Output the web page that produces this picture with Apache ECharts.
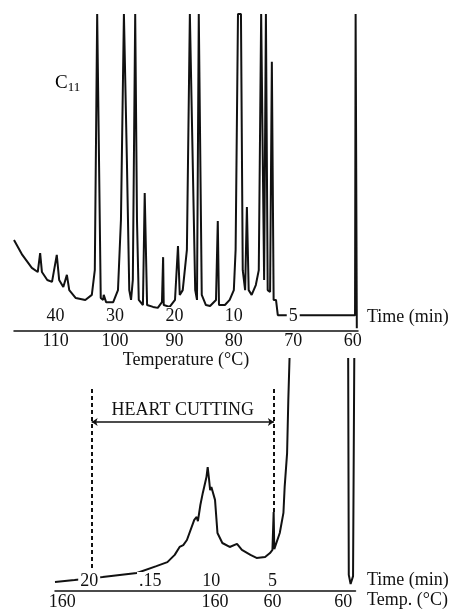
<!DOCTYPE html>
<html>
<head>
<meta charset="utf-8">
<script src="https://cdn.jsdelivr.net/npm/echarts@6/dist/echarts.min.js"></script>
<style>html,body{margin:0;background:#fff}#chart{width:459px;height:611px}</style>
</head>
<body>
<div id="chart"></div>
<script>
// upper run: x = column temperature (°C), y = detector signal (% of full scale)
const topTempC = [117.0, 115.6, 114.0, 113.0, 112.6, 112.3, 111.4, 110.6, 109.8, 109.4, 108.7, 108.1, 107.7, 106.6, 105.0,
  103.9, 103.4, 103.0, 102.7, 102.4, 102.0, 101.9, 101.5, 100.3, 99.5, 99.0, 98.5, 98.2, 98.0, 97.6, 97.3, 97.0, 96.6, 96.5,
  96.3, 96.0, 95.3, 95.0, 94.6, 93.6, 92.8, 92.1, 91.9, 91.8, 90.8, 89.9, 89.4, 89.1, 88.6, 87.9, 87.4, 87.1, 86.5, 86.2,
  85.9, 85.7, 85.4, 84.7, 84.0, 83.0, 82.7, 82.5, 81.5, 80.7, 80.0, 79.7, 79.3, 78.8, 78.5, 78.1, 77.8, 77.5, 77.0, 76.3,
  75.8, 75.4, 74.9, 74.6, 74.3, 73.9, 73.6, 73.3, 72.9, 72.6, 59.6, 59.5, 59.4, 59.3];
const topSignal = [28.7, 24.0, 19.9, 18.6, 24.6, 18.6, 16.1, 15.5, 24.0, 16.1, 13.9, 17.7, 12.9, 10.4, 9.8,
  11.4, 19.2, 100, 100, 10.4, 9.8, 11.4, 9.1, 9.1, 12.9, 35.0, 100, 100, 53.9, 12.9, 9.8, 16.1, 100, 100,
  35.0, 9.8, 8.2, 43.5, 8.2, 7.6, 7.3, 9.1, 23.3, 8.2, 7.6, 9.8, 26.8, 11.4, 12.9, 25.6, 100, 100, 12.9, 9.8,
  100, 100, 11.4, 8.2, 7.9, 9.8, 34.7, 8.2, 8.2, 9.8, 12.9, 25.6, 100, 100, 19.2, 12.9, 39.1, 12.9, 11.4, 14.5,
  19.2, 100, 16.1, 100, 12.9, 12.3, 84.9, 9.8, 9.8, 5.0, 5.0, 100, 100, 0.9];
const topTempTicks = [110, 100, 90, 80, 70, 60];
const topTimeTicks = [110, 100, 90, 80, 70];
const topTimeLabels = ['40', '30', '20', '10', '5'];

// lower run after the heart cut: x = time (min)
const lowTime = [22.8, 21.2, 18.9, 16.1, 14.5, 13.6, 13.0, 12.6, 12.3, 12.0, 11.4, 11.2, 11.1, 10.9, 10.7, 10.4, 10.3,
  10.2, 10.1, 10.0, 9.7, 9.5, 9.1, 8.5, 7.9, 7.5, 6.8, 6.3, 5.6, 5.2, 5.0, 4.9, 4.85, 4.4, 4.1, 4.0, 3.8, 3.7, 3.6];
const lowSignal = [3.9, 4.7, 6.0, 7.7, 10.7, 12.4, 15.5, 18.9, 19.7, 21.9, 30.5, 31.8, 30.0, 36.9, 42.1, 48.9, 53.2,
  48.5, 43.3, 44.6, 39.1, 24.9, 20.6, 18.9, 20.2, 17.6, 15.5, 14.2, 14.6, 16.3, 17.6, 33.9, 18.0, 24.9, 33.5, 44.6, 59.2, 82.0, 100];
const solventTime = [-1.2, -1.25, -1.4, -1.6, -1.7];
const solventSignal = [100, 6.9, 3.0, 6.4, 100];
const lowTimeTicks = [20, 15, 10, 5];
const lowTimeLabels = ['20', '.15', '10', '5'];
const lowTempTicks = [22.2, 9.7, 5.0, -0.8];
const lowTempLabels = ['160', '160', '60', '60'];
const heartCut = [19.8, 4.88];

const zip = (xs, ys) => xs.map((x, i) => [x, ys[i]]);
const pick = (ticks, labels) => v => {
  let best = 0;
  ticks.forEach((t, i) => { if (Math.abs(t - v) < Math.abs(ticks[best] - v)) best = i; });
  return labels[best];
};

const font = 'Liberation Serif';
const ink = '#111';
const numLabel = { fontFamily: font, fontSize: 18, color: ink };

const chart = echarts.init(document.getElementById('chart'));

chart.setOption({
  animation: false,
  backgroundColor: '#fff',
  grid: [
    { left: 14, top: 14, width: 344, height: 317 },
    { left: 55, top: 358, width: 300.5, height: 233 }
  ],
  xAxis: [
    {
      gridIndex: 0, type: 'value', position: 'bottom', inverse: true, min: 59.1, max: 117.0,
      axisLine: { lineStyle: { color: ink, width: 1.5 } },
      axisTick: { show: false }, splitLine: { show: false },
      axisLabel: { ...numLabel, margin: 1, customValues: topTempTicks },
      name: 'Temperature (°C)', nameLocation: 'middle', nameGap: 20, nameMoveOverlap: false,
      nameTextStyle: { fontFamily: font, fontSize: 18, color: ink, verticalAlign: 'top' }
    },
    {
      gridIndex: 0, type: 'value', position: 'bottom', inverse: true, min: 59.1, max: 117.0, z: 5,
      axisLine: { show: false }, axisTick: { show: false }, splitLine: { show: false },
      axisLabel: {
        ...numLabel, inside: true, margin: 6, backgroundColor: '#fff', padding: [0, 2],
        customValues: topTimeTicks, formatter: pick(topTimeTicks, topTimeLabels)
      }
    },
    {
      gridIndex: 1, type: 'value', position: 'bottom', inverse: true, min: -1.8, max: 22.8,
      axisLine: { lineStyle: { color: ink, width: 1.5 } },
      axisTick: { show: false }, splitLine: { show: false },
      axisLabel: { ...numLabel, margin: 2, customValues: lowTempTicks, formatter: pick(lowTempTicks, lowTempLabels) }
    },
    {
      gridIndex: 1, type: 'value', position: 'bottom', inverse: true, min: -1.8, max: 22.8, z: 5,
      axisLine: { show: false }, axisTick: { show: false }, splitLine: { show: false },
      axisLabel: {
        ...numLabel, inside: true, margin: 1, backgroundColor: '#fff', padding: [0, 2],
        customValues: lowTimeTicks, formatter: pick(lowTimeTicks, lowTimeLabels)
      }
    }
  ],
  yAxis: [
    { gridIndex: 0, type: 'value', min: 0, max: 100, show: false },
    { gridIndex: 1, type: 'value', min: 0, max: 100, show: false }
  ],
  series: [
    {
      type: 'line', xAxisIndex: 0, yAxisIndex: 0, data: zip(topTempC, topSignal),
      showSymbol: false, lineStyle: { color: ink, width: 2 }
    },
    {
      type: 'line', xAxisIndex: 2, yAxisIndex: 1, data: zip(lowTime, lowSignal),
      showSymbol: false, lineStyle: { color: ink, width: 2 },
      markLine: {
        silent: true, symbol: ['none', 'none'],
        lineStyle: { color: ink, width: 2, type: [4, 3] },
        label: { show: false },
        data: [
          [{ coord: [heartCut[0], 86.7] }, { coord: [heartCut[0], 9.0] }],
          [{ coord: [heartCut[1], 86.7] }, { coord: [heartCut[1], 33.9] }],
          [
            { coord: [heartCut[0], 72.5], symbol: 'arrow', symbolSize: 6,
              lineStyle: { type: 'solid', width: 1.5 },
              label: { show: true, position: 'middle', formatter: 'HEART CUTTING', distance: 3,
                fontFamily: font, fontSize: 18, color: ink } },
            { coord: [heartCut[1], 72.5], symbol: 'arrow', symbolSize: 6 }
          ]
        ]
      }
    },
    {
      type: 'line', xAxisIndex: 2, yAxisIndex: 1, data: zip(solventTime, solventSignal),
      showSymbol: false, lineStyle: { color: ink, width: 2 }
    }
  ],
  graphic: [
    { type: 'text', left: 55, top: 74, style: {
      text: '{c|C}{s|11}', rich: {
        c: { fontFamily: font, fontSize: 19, color: ink },
        s: { fontFamily: font, fontSize: 13, color: ink, verticalAlign: 'bottom', padding: [8, 0, 0, 0] }
      } } },
    { type: 'text', left: 367, top: 308, style: { text: 'Time (min)', fontFamily: font, fontSize: 18, fill: ink } },
    { type: 'text', left: 367, top: 571, style: { text: 'Time (min)', fontFamily: font, fontSize: 18, fill: ink } },
    { type: 'text', left: 367, top: 591, style: { text: 'Temp. (°C)', fontFamily: font, fontSize: 18, fill: ink } }
  ]
});
</script>
</body>
</html>
